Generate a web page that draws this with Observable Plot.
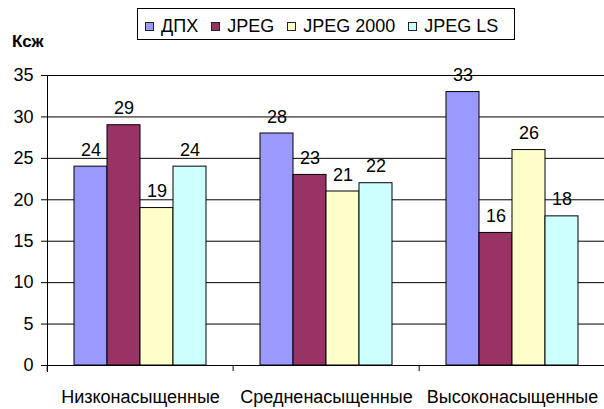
<!DOCTYPE html>
<html>
<head>
<meta charset="utf-8">
<script src="https://cdn.jsdelivr.net/npm/d3@7"></script>
<script src="https://cdn.jsdelivr.net/npm/@observablehq/plot@0.6"></script>
<style>
  html, body { margin: 0; padding: 0; background: #fff; }
  #wrap { position: relative; width: 604px; height: 409px; overflow: hidden; font-family: "Liberation Sans", Arial, sans-serif; color: #000; background: #fff; }
  #chart { position: absolute; left: 0; top: 40px; z-index: 1; }
  #legend { position: absolute; left: 137px; top: 8px; width: 378px; height: 32px; box-sizing: border-box; border: 1px solid #000; background: #fff;
            display: flex; align-items: center; padding: 4px 0 0 7px; font-size: 18px; z-index: 2; }
  .item { display: flex; align-items: center; margin-right: 13px; }
  .sw { width: 7px; height: 7px; border: 1px solid #222; margin-right: 7px; }
  #ylab { position: absolute; left: 12px; top: 33px; font-size: 17px; line-height: 17px; font-weight: bold; z-index: 3; }
</style>
</head>
<body>
<div id="wrap">
  <div id="legend"></div>
  <div id="ylab">Ксж</div>
  <div id="chart"></div>
</div>
<script>
const categories = ["Низконасыщенные", "Средненасыщенные", "Высоконасыщенные"];
const series = ["ДПХ", "JPEG", "JPEG 2000", "JPEG LS"];
const valuesDPH = [24, 28, 33];
const valuesJPEG = [29, 23, 16];
const valuesJPEG2000 = [19, 21, 26];
const valuesJPEGLS = [24, 22, 18];
const colors = ["#9999FF", "#993366", "#FFFFCC", "#CCFFFF"];
const yTicks = [0, 5, 10, 15, 20, 25, 30, 35];

const seriesValues = [valuesDPH, valuesJPEG, valuesJPEG2000, valuesJPEGLS];
const data = [];
categories.forEach((cat, ci) => {
  series.forEach((s, si) => data.push({cat, series: s, value: seriesValues[si][ci]}));
});

// legend
const legend = document.getElementById("legend");
series.forEach((s, i) => {
  const it = document.createElement("div");
  it.className = "item";
  const sw = document.createElement("div");
  sw.className = "sw";
  sw.style.background = colors[i];
  const t = document.createElement("span");
  t.textContent = s;
  it.appendChild(sw); it.appendChild(t);
  legend.appendChild(it);
});

const W = 604, H = 369, mL = 46;
const fxRange = [mL, 606];
const bw = (fxRange[1] - fxRange[0]) / categories.length;

const chart = Plot.plot({
  width: W, height: H,
  marginTop: 35, marginBottom: 44, marginLeft: mL, marginRight: 0,
  style: {fontFamily: '"Liberation Sans", Arial, sans-serif', fontSize: "18px", color: "#000", background: "transparent", overflow: "hidden"},
  fx: {domain: categories, range: fxRange, padding: 0, axis: null, label: null},
  x: {domain: series, paddingInner: 0, paddingOuter: 0.77, axis: null, label: null},
  y: {domain: [0, 35], axis: null, label: null},
  color: {domain: series, range: colors},
  marks: [
    Plot.ruleY(yTicks, {stroke: "#000", strokeWidth: 1}),
    Plot.barY(data, {fx: "cat", x: "series", y: "value", fill: "series", stroke: "#000", strokeWidth: 1}),
    Plot.text(data, {fx: "cat", x: "series", y: "value", text: d => String(d.value), lineAnchor: "bottom", dy: -11, fontSize: 18, fill: "#000"}),
    Plot.axisY({ticks: yTicks, tickSize: 6, tickPadding: 8, fontSize: 18, label: null, stroke: "#000"}),
    Plot.frame({anchor: "left", facet: "super", insetBottom: -6, stroke: "#000"}),
    Plot.axisFx({anchor: "bottom", tickSize: 0, tickPadding: 25, fontSize: 18, label: null}),
    Plot.axisFx({anchor: "bottom", tickSize: 6, tickFormat: () => "", dx: -bw / 2, label: null, stroke: "#000"})
  ]
});
document.getElementById("chart").appendChild(chart);
</script>
</body>
</html>
